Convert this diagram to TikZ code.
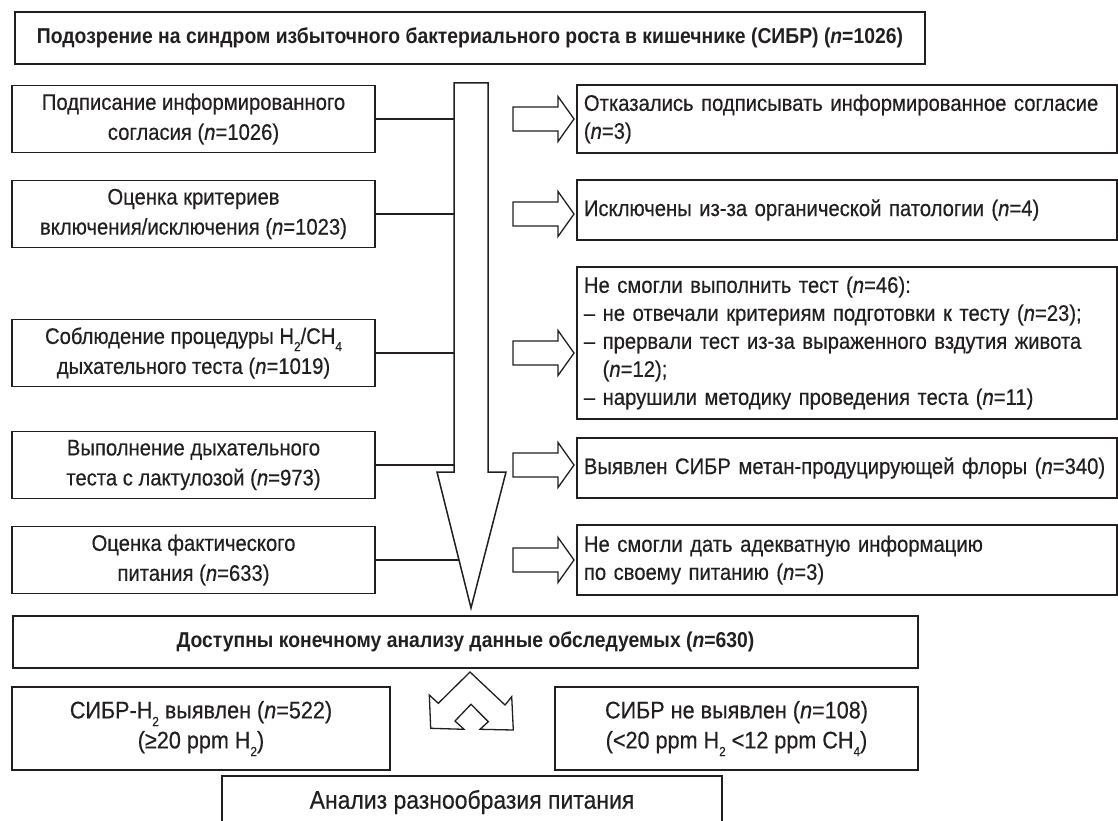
\documentclass[tikz,border=0pt]{standalone}
\usepackage{fontspec}
\setmainfont{Liberation Sans}[FakeStretch=0.9,
  UprightFeatures={FakeBold=0.4}, ItalicFeatures={FakeBold=0.4}]
\newcommand{\fs}{\fontsize{22.5}{30}\selectfont}
\newcommand{\fr}{\fontsize{22.5}{28}\selectfont}
\newcommand{\fb}{\fontsize{21.5}{28}\selectfont\bfseries}
\newcommand{\fbot}{\fontsize{24}{30}\selectfont}
\newcommand{\nI}{\textit{n}}
\newcommand{\lsub}[1]{\raisebox{-0.6ex}{\fontsize{13}{13}\selectfont #1}}
\definecolor{ink}{HTML}{231F20}
\begin{document}
\begin{tikzpicture}[x=1pt,y=-1pt, color=ink,
  box/.style={draw, line width=1.8pt, inner sep=0pt, align=center,
    minimum width=363pt, minimum height=67pt, font=\fs},
  rbox/.style={draw, line width=1.8pt, inner xsep=7pt, inner ysep=0pt,
    text width=526pt, align=left, minimum height=#1, anchor=west, font=\fr},
  conn/.style={line width=1.6pt},
  arrowline/.style={draw, line width=1.3pt, line join=miter, fill=white},
  blockarrow/.pic={\path[arrowline] (0,-12) -- (45,-12) -- (45,-22.5) -- (61,0) -- (45,22.5) -- (45,12) -- (0,12) -- cycle;}
]
\useasboundingbox[fill=white] (0,0) rectangle (1118,821);

% top box
\node[box, minimum width=910pt, minimum height=52pt, font=\fb] (top) at (470,38)
  {Подозрение на синдром избыточного бактериального роста в кишечнике (СИБР) (\nI=1026)};

% big arrow
\coordinate (sT) at (454,83);
\coordinate (tip) at (471,608);
\path[arrowline, line width=1.5pt] (454,83) -- (488,83) -- (488,472) -- (506,472) -- (tip) -- (437,472) -- (454,472) -- cycle;
\coordinate (h5) at (459,560);

% left boxes
\node[box] (b1) at (193.5,119) {Подписание информированного\\согласия (\nI=1026)};
\node[box] (b2) at (193.5,214) {Оценка критериев\\включения/исключения (\nI=1023)};
\node[box] (b3) at (193.5,353) {Соблюдение процедуры H\lsub{2}/CH\lsub{4}\\дыхательного теста (\nI=1019)};
\node[box] (b4) at (193.5,465) {Выполнение дыхательного\\теста с лактулозой (\nI=973)};
\node[box] (b5) at (193.5,560) {Оценка фактического\\питания (\nI=633)};

\foreach \b in {b1,b2,b3,b4} \draw[conn] (\b.east) -- (\b.east -| sT);
\draw[conn] (b5.east) -- (h5);

% small arrows
\foreach \y in {119,214,353,465,560} \pic at (513,\y) {blockarrow};

% right boxes
\node[rbox=68pt] (r1) at (576,119) {Отказались подписывать информированное согласие\\(\nI=3)};
\node[rbox=60pt] (r2) at (576,210) {Исключены из-за органической патологии (\nI=4)};
\node[rbox=152pt] (r3) at (576,343) {Не смогли выполнить тест (\nI=46):\\
– не отвечали критериям подготовки к тесту (\nI=23);\\
– прервали тест из-за выраженного вздутия живота\\
\phantom{– }(\nI=12);\\
– нарушили методику проведения теста (\nI=11)};
\node[rbox=60pt] (r4) at (576,468) {Выявлен СИБР метан-продуцирующей флоры (\nI=340)};
\node[rbox=70pt] (r5) at (576,560) {Не смогли дать адекватную информацию\\по своему питанию (\nI=3)};

% final
\node[box, minimum width=905pt, minimum height=52pt, font=\fb] (fin) at (465.5,642)
  {Доступны конечному анализу данные обследуемых (\nI=630)};

% split arrow
\path[arrowline] (470,672) -- (505,705) -- (511.7,696.7) -- (513.3,730) -- (480,729.3)
  -- (488.3,721.7) -- (471,704.3) -- (455,721) -- (464,729.3) -- (430.7,728.3)
  -- (429.3,695) -- (438.3,703.3) -- cycle;

\node[box, minimum width=378pt, minimum height=83pt, font=\fbot] (sl) at (201,728.5)
  {СИБР-H\lsub{2} выявлен (\nI=522)\\(≥20 ppm H\lsub{2})};
\node[box, minimum width=363pt, minimum height=83pt, font=\fbot] (sr) at (736.5,728.5)
  {СИБР не выявлен (\nI=108)\\(<20 ppm H\lsub{2} <12 ppm CH\lsub{4})};

\node[box, minimum width=500pt, minimum height=52pt, font=\fontsize{25.5}{30}\selectfont] (an) at (472,802)
  {Анализ разнообразия питания};
\end{tikzpicture}
\end{document}
